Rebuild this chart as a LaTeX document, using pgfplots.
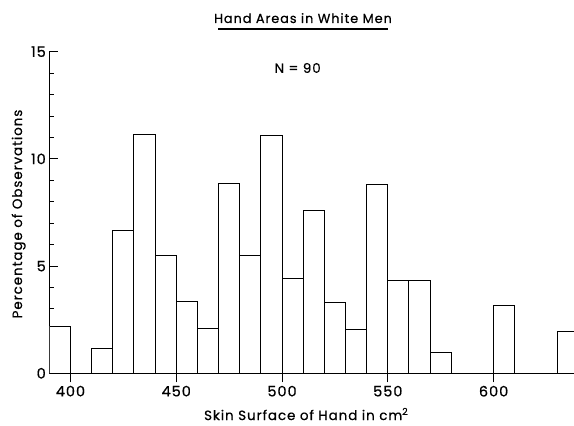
\documentclass[border=0pt]{standalone}
\usepackage{fontspec}
\setmainfont{Poppins}[FakeBold=0.5]
\newfontfamily\lab{Poppins}[LetterSpace=7, FakeBold=0.6]
\usepackage{pgfplots}
\pgfplotsset{compat=1.18}
\begin{document}
\begin{tikzpicture}
\begin{axis}[
  name=A,
  scale only axis,
  width=524.7bp, height=321.6bp,
  xmin=390, xmax=638, ymin=0, ymax=15,
  axis x line*=bottom, axis y line*=left,
  axis line style={line width=1.2bp, black},
  xtick={400,450,500,550,600},
  ytick={0,5,10,15},
  minor ytick={1,2,3,4,6,7,8,9,11,12,13,14},
  xtick align=outside, ytick align=inside,
  major tick length=9bp, minor tick length=5bp,
  tick style={line width=1bp, black},
  /pgf/number format/assume math mode=true,
  ticklabel style={font=\lab\fontsize{14.5}{16}\selectfont},
  clip mode=individual,
]
\addplot[ybar interval, fill=white, draw=black, line width=1bp] coordinates {
 (390,2.2) (400,0) (410,1.15) (420,6.65) (430,11.15) (440,5.5) (450,3.35)
 (460,2.1) (470,8.85) (480,5.5) (490,11.1) (500,4.4) (510,7.6) (520,3.3)
 (530,2.05) (540,8.8) (550,4.35) (560,4.35) (570,0.95) (580,0) (590,0)
 (600,3.15) (610,0) (620,0) (630,1.95) (640,0)
};
\node[anchor=base, font=\lab\fontsize{13}{15}\selectfont] at (axis cs:509.9,16.34) {Hand Areas in White Men};
\draw[line width=1.4bp] (axis cs:469.8,16.06) -- (axis cs:550.2,16.06);
\node[anchor=base, font=\lab\fontsize{13.5}{15}\selectfont] at (axis cs:507.4,14.01) {N = 90};
\node[anchor=base, font=\lab\fontsize{13.5}{15}\selectfont] at (axis cs:511.4,-2.18) {Skin Surface of Hand in cm\textsuperscript{2}};
\node[anchor=base, rotate=90, font=\lab\fontsize{13.5}{15}\selectfont] at (axis cs:377.1,7.43) {Percentage of Observations};
\end{axis}
\pgfresetboundingbox
\path[use as bounding box] ([xshift=-49.3bp,yshift=-52.7bp]A.south west) rectangle ([yshift=51.7bp]A.north east);
\end{tikzpicture}
\end{document}
